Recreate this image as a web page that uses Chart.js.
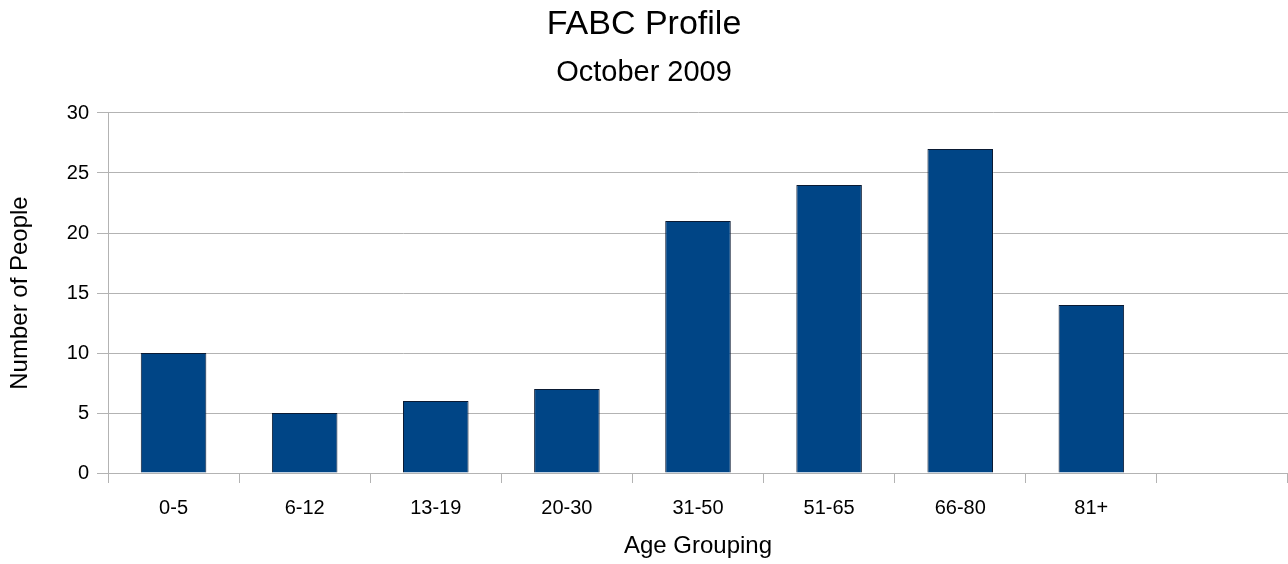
<!DOCTYPE html>
<html>
<head>
<meta charset="utf-8">
<script src="https://cdn.jsdelivr.net/npm/chart.js@4"></script>
<style>
  body { margin: 0; background: #fff; }
  canvas { display: block; }
</style>
</head>
<body>
<canvas id="myChart" width="1288" height="564"></canvas>
<script>
const ageGroups = ['0-5', '6-12', '13-19', '20-30', '31-50', '51-65', '66-80', '81+', ''];
const people = [10, 5, 6, 7, 21, 24, 27, 14, null];
const yTicks = [0, 5, 10, 15, 20, 25, 30];

const gridGrey = '#b3b3b3';
const font = 'Liberation Sans';

const ctx = document.getElementById('myChart').getContext('2d');

const data = {
    labels: ageGroups,
    datasets: [
        {
            label: 'Number of People',
            data: people,
            backgroundColor: '#004586',
            borderColor: '#0a1a33',
            borderWidth: 1,
            categoryPercentage: 1,
            barPercentage: 0.5
        }
    ]
};

const options = {
    responsive: false,
    animation: false,
    layout: { padding: 0 },
    scales: {
        x: {
            offset: true,
            grid: {
                offset: true,
                drawOnChartArea: false,
                tickLength: 10,
                color: gridGrey
            },
            border: { display: true, color: gridGrey },
            ticks: {
                color: '#000',
                padding: 13,
                font: { family: font, size: 20 }
            },
            title: {
                display: true,
                text: 'Age Grouping',
                color: '#000',
                font: { family: font, size: 24 },
                padding: { top: 0, bottom: 3 }
            },
            afterFit: (scale) => { scale.height = 91; }
        },
        y: {
            min: 0,
            max: 30,
            afterBuildTicks: (scale) => { scale.ticks = yTicks.map(v => ({ value: v })); },
            grid: {
                color: gridGrey,
                tickLength: 11
            },
            border: { display: true, color: gridGrey },
            ticks: {
                color: '#000',
                padding: 8,
                font: { family: font, size: 20 }
            },
            title: {
                display: true,
                text: 'Number of People',
                color: '#000',
                font: { family: font, size: 24 },
                padding: { top: 6, bottom: 0 }
            },
            afterFit: (scale) => { scale.width = 108; }
        }
    },
    plugins: {
        legend: { display: false },
        tooltip: { enabled: false },
        title: {
            display: true,
            text: 'FABC Profile',
            color: '#000',
            font: { family: font, size: 34, weight: 'normal' },
            padding: { top: 4, bottom: 0 }
        },
        subtitle: {
            display: true,
            text: 'October 2009',
            color: '#000',
            font: { family: font, size: 29, weight: 'normal' },
            padding: { top: 11, bottom: 22.4 }
        }
    }
};

const myChart = new Chart(ctx, {
    type: 'bar',
    data: data,
    options: options
});
</script>
</body>
</html>
